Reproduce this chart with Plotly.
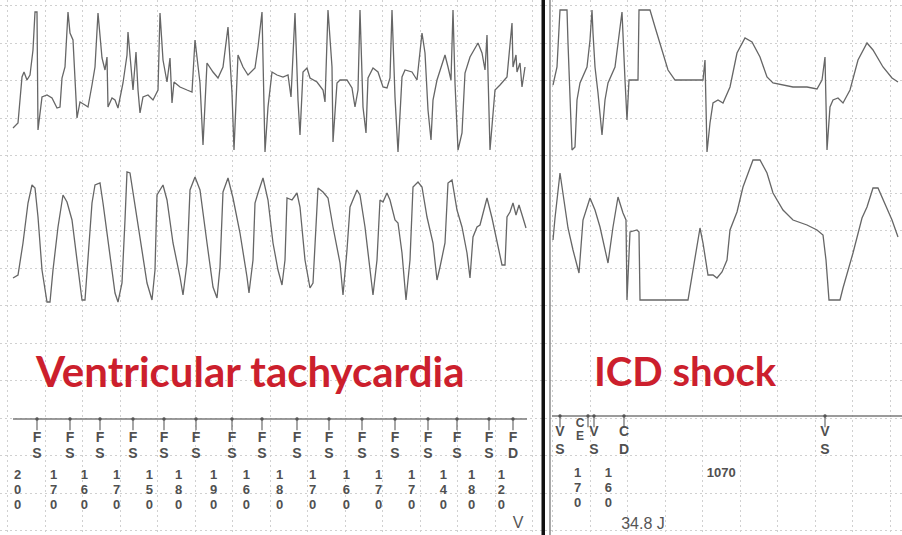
import plotly.graph_objects as go

# ---------------- data (time in strip px-units, amplitude in px-units, down = larger) -------------
vt_lead1 = [(13,128),(18,123),(22,77),(24,72),(27,80),(30,75),(33,50),(35,12),(37,12),(38,130),(42,97),(47,95),
            (52,98),(57,108),(60,107),(62,78),(65,67),(68,12),(70,33),(73,40),(77,118),(80,102),(85,105),(88,107),
            (92,85),(95,67),(98,13),(102,58),(105,70),(107,57),(108,107),(112,98),(115,100),(118,108),(123,83),
            (127,55),(128,32),(130,53),(133,90),(136,52),(138,90),(140,113),(143,97),(148,95),(153,100),(158,90),
            (160,13),(163,60),(167,82),(170,58),(172,103),(174,82),(180,87),(187,90),(192,92),(195,40),(200,83),
            (203,145),(207,63),(213,72),(218,78),(223,67),(228,27),(232,93),(234,150),(238,55),(243,67),(248,75),
            (255,68),(258,47),(262,12),(265,152),(268,107),(272,72),(277,75),(283,77),(288,75),(291,97),(295,13),
            (298,100),(300,135),(303,72),(307,68),(310,78),(317,82),(323,90),(325,102),(328,10),(332,67),(333,142),
            (337,83),(340,80),(347,80),(352,88),(355,107),(358,90),(360,10),(363,107),(366,133),(368,78),(373,68),
            (378,72),(383,87),(387,88),(390,78),(392,10),(395,97),(398,152),(402,77),(405,70),(412,72),(417,80),
            (422,33),(425,53),(428,110),(431,140),(433,100),(437,80),(440,70),(445,55),(448,67),(451,80),(453,10),
            (455,83),(458,150),(462,133),(465,73),(470,57),(478,43),(482,53),(485,70),(487,35),(490,150),(495,90),
            (500,85),(507,77),(512,23),(513,67),(516,55),(517,72),(520,63),(522,87),(525,67)]

vt_lead2 = [(13,278),(18,275),(23,243),(28,203),(32,185),(35,188),(38,217),(42,270),(47,302),(50,302),(53,270),
            (58,227),(63,195),(67,202),(72,220),(77,260),(82,300),(85,300),(88,260),(92,203),(95,185),(100,183),
            (103,203),(108,240),(115,293),(118,302),(122,283),(125,220),(127,172),(130,173),(133,193),(140,240),
            (147,283),(152,300),(155,270),(157,195),(160,190),(163,185),(167,200),(173,243),(180,277),(183,295),
            (187,263),(190,190),(195,177),(200,190),(207,243),(213,287),(217,298),(220,267),(223,192),(228,178),
            (233,198),(240,233),(247,277),(249,293),(253,260),(255,203),(258,193),(263,178),(268,200),(273,243),
            (278,270),(282,285),(285,260),(287,198),(292,200),(297,193),(300,207),(305,260),(310,288),(313,283),
            (318,188),(323,192),(328,198),(333,227),(340,263),(343,295),(347,250),(350,207),(357,190),(360,195),
            (365,227),(370,267),(373,295),(377,260),(380,200),(383,202),(387,193),(390,200),(395,220),(398,223),
            (402,253),(406,300),(410,260),(413,187),(418,182),(422,187),(427,217),(433,243),(437,280),(440,267),
            (445,243),(448,183),(452,180),(457,210),(462,227),(467,253),(470,278),(473,237),(477,227),(480,225),
            (483,213),(487,198),(492,218),(497,243),(502,265),(505,265),(507,217),(510,212),(513,203),(516,215),
            (519,205),(523,218),(526,228)]

shock_lead1 = [(553,85),(557,67),(560,10),(567,10),(568,43),(572,150),(575,147),(577,100),(580,83),(587,67),
               (590,40),(592,10),(593,33),(595,67),(598,93),(602,135),(605,100),(608,83),(615,67),(620,30),
               (622,12),(625,80),(627,120),(629,80),(638,80),(639,10),(650,10),(655,27),(662,50),(668,70),
               (675,80),(703,80),(705,60),(707,152),(710,123),(713,103),(718,100),(723,103),(730,87),(737,53),
               (745,38),(752,42),(760,57),(767,77),(773,83),(793,87),(807,87),(817,89),(822,80),(825,57),
               (827,150),(830,107),(833,100),(838,98),(843,103),(850,90),(858,60),(867,43),(873,50),(883,67),
               (892,78),(898,82)]

shock_lead2 = [(553,240),(555,218),(560,173),(563,193),(568,228),(573,250),(579,273),(583,220),(590,198),
               (595,210),(600,227),(608,263),(613,227),(618,197),(623,213),(626,220),(627,300),(630,232),
               (637,230),(639,232),(640,300),(688,300),(695,260),(700,228),(703,243),(708,275),(713,275),
               (717,278),(722,272),(727,260),(730,230),(737,212),(743,187),(753,160),(760,160),(767,173),
               (773,193),(783,210),(793,220),(807,225),(817,230),(823,235),(826,260),(829,300),(840,300),
               (843,288),(853,253),(862,218),(867,207),(873,188),(878,188),(883,200),(892,220),(898,237)]

vt_marker_t = [37, 70, 100, 133, 164, 196, 232, 262, 297, 329, 362, 395, 428, 457, 489, 513]
vt_marker_code = ["FS", "FS", "FS", "FS", "FS", "FS", "FS", "FS", "FS", "FS", "FS", "FS", "FS", "FS", "FS", "FD"]
vt_interval_ms = [200, 170, 160, 170, 150, 180, 190, 160, 180, 170, 160, 170, 170, 140, 180, 120]

shock_marker_t = [560, 588, 594, 624, 825]
shock_marker_code = ["VS", "CE", "VS", "CD", "VS"]
shock_interval_ms = [None, None, 170, 160, 1070]
shock_energy = "34.8 J"
vt_end_code = "V"

episode_labels = ["Ventricular tachycardia", "ICD shock"]

# ---------------- style / layout constants ----------------
PX_PER_MS = 0.194
TRACE = "#666666"
LABEL = "#505050"
RED = "#cc1f2d"
W, H = 902, 535
SPLIT = 545

fig = go.Figure()


def line_trace(t, v, xa, ya, color=TRACE, width=1.3):
    fig.add_trace(go.Scatter(x=t, y=v, mode="lines", line=dict(color=color, width=width),
                             xaxis=xa, yaxis=ya, hoverinfo="skip", showlegend=False))


def text_trace(t, v, txt, xa, ya, size=14, bold=True, color=LABEL):
    fig.add_trace(go.Scatter(x=t, y=v, mode="text", text=txt, textposition="middle center",
                             textfont=dict(family="Liberation Sans, Arial", size=size, color=color,
                                           weight="bold" if bold else "normal"),
                             xaxis=xa, yaxis=ya, hoverinfo="skip", showlegend=False, cliponaxis=False))


# ECG leads
for pts, xa, ya in [(vt_lead1, "x", "y"), (vt_lead2, "x", "y"),
                    (shock_lead1, "x2", "y2"), (shock_lead2, "x2", "y2")]:
    line_trace([p[0] for p in pts], [p[1] for p in pts], xa, ya)

# divider between episodes
line_trace([543.5, 543.5], [0, H], "x", "y", color="#111111", width=4)
line_trace([550, 550], [0, H], "x2", "y2", color="#8a8a8a", width=1.5)

# marker channel baselines
line_trace([13, 527], [419, 419], "x", "y", color="#7a7a7a", width=1.6)
line_trace([552, 902], [416, 416], "x2", "y2", color="#7a7a7a", width=1.6)

# marker ticks
for ts, base, xa, ya in [(vt_marker_t, 419, "x", "y"), (shock_marker_t, 416, "x2", "y2")]:
    fig.add_trace(go.Scatter(x=ts, y=[base + 5] * len(ts), mode="markers",
                             marker=dict(symbol="line-ns", size=9, line=dict(width=1.2, color="#6a6a6a")),
                             xaxis=xa, yaxis=ya, hoverinfo="skip", showlegend=False))
    fig.add_trace(go.Scatter(x=ts, y=[base] * len(ts), mode="markers",
                             marker=dict(symbol="circle", size=3.5, color="#555555"),
                             xaxis=xa, yaxis=ya, hoverinfo="skip", showlegend=False))

# marker codes (two stacked letters)
text_trace(vt_marker_t, [438] * len(vt_marker_t), [c[0] for c in vt_marker_code], "x", "y")
text_trace(vt_marker_t, [454] * len(vt_marker_t), [c[1] for c in vt_marker_code], "x", "y")
sh_main = [(t, c) for t, c in zip(shock_marker_t, shock_marker_code) if c != "CE"]
sh_ce = [(t, c) for t, c in zip(shock_marker_t, shock_marker_code) if c == "CE"]
text_trace([p[0] for p in sh_main], [432] * len(sh_main), [p[1][0] for p in sh_main], "x2", "y2")
text_trace([p[0] for p in sh_main], [450] * len(sh_main), [p[1][1] for p in sh_main], "x2", "y2")
text_trace([p[0] - 8 for p in sh_ce], [424] * len(sh_ce), [p[1][0] for p in sh_ce], "x2", "y2", size=12)
text_trace([p[0] - 8 for p in sh_ce], [437] * len(sh_ce), [p[1][1] for p in sh_ce], "x2", "y2", size=12)

# interval values written vertically half-way back to previous event
digit_rows_vt = [476, 491, 506]
digit_rows_sh = [474, 489, 504]
vt_lab_x = [t - iv * PX_PER_MS / 2 for t, iv in zip(vt_marker_t, vt_interval_ms)]
for r, yy in enumerate(digit_rows_vt):
    text_trace(vt_lab_x, [yy] * len(vt_lab_x), [str(iv)[r] for iv in vt_interval_ms], "x", "y", size=13)

sh_short = [(t - iv * PX_PER_MS / 2, str(iv)) for t, iv in zip(shock_marker_t, shock_interval_ms)
            if iv is not None and iv < 1000]
sh_long = [(t - iv * PX_PER_MS / 2, str(iv)) for t, iv in zip(shock_marker_t, shock_interval_ms)
           if iv is not None and iv >= 1000]
for r, yy in enumerate(digit_rows_sh):
    text_trace([p[0] for p in sh_short], [yy] * len(sh_short), [p[1][r] for p in sh_short], "x2", "y2", size=13)
text_trace([p[0] for p in sh_long], [474] * len(sh_long), [p[1] for p in sh_long], "x2", "y2", size=13)

text_trace([643], [525], [shock_energy], "x2", "y2", size=16, bold=False, color="#555555")
text_trace([518], [524], [vt_end_code], "x", "y", size=16, bold=False, color="#555555")

# episode titles
annotations = [
    dict(text=episode_labels[0], x=250, y=371, xref="x", yref="y", showarrow=False,
         font=dict(family="Lato", size=42, color=RED, weight="bold"), xanchor="center", yanchor="middle"),
    dict(text=episode_labels[1], x=685, y=371, xref="x2", yref="y2", showarrow=False,
         font=dict(family="Lato", size=40, color=RED, weight="bold"), xanchor="center", yanchor="middle"),
]

grid = dict(showgrid=True, gridcolor="#d0d0d0", gridwidth=1, griddash="2px,3px",
            zeroline=False, showticklabels=False, ticks="", showline=False, fixedrange=True)

fig.update_layout(
    width=W, height=H, margin=dict(l=0, r=0, t=0, b=0),
    paper_bgcolor="white", plot_bgcolor="white", showlegend=False,
    xaxis=dict(domain=[0, SPLIT / W], range=[0, SPLIT], tick0=45, dtick=37.5, **grid),
    yaxis=dict(domain=[0, 1], range=[H, 0], tick0=5.5, dtick=37.5, **grid),
    xaxis2=dict(domain=[SPLIT / W, 1], range=[SPLIT, W], tick0=552.5, dtick=37.5, anchor="y2", **grid),
    yaxis2=dict(domain=[0, 1], range=[H, 0], tick0=5.5, dtick=37.5, anchor="x2", **grid),
    annotations=annotations,
)

fig.write_html("out.html", config={"displayModeBar": False},
               post_script="document.body.style.margin='0';document.body.style.overflow='hidden';")
